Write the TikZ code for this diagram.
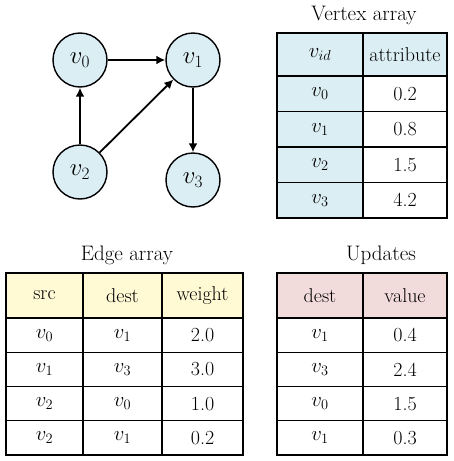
\documentclass[tikz,border=0pt]{standalone}
\usetikzlibrary{arrows,arrows.meta,calc}
\definecolor{vblue}{RGB}{219,238,244}
\definecolor{eyellow}{RGB}{255,249,212}
\definecolor{upink}{RGB}{242,220,219}
\tikzset{
  vert/.style={circle, draw=black, line width=1.4pt, fill=vblue, minimum size=54pt, inner sep=0pt, font=\fontsize{25}{27}\selectfont},
  edge/.style={line width=1.8pt, -{Latex[length=9pt,width=9pt]}},
  cell/.style={inner sep=0pt, font=\fontsize{20}{22}\selectfont},
  ttl/.style={inner sep=0pt, font=\fontsize{21}{24}\selectfont},
  grid/.style={line width=1.1pt, draw=black},
  headline/.style={line width=2.8pt, draw=black}
}

\begin{document}
\begin{tikzpicture}[x=1pt,y=-1pt]
\useasboundingbox (0,0) rectangle (453,461);

%graph vertices
\node [vert] (v0) at (80,60) {$v_0$};
\node [vert] (v1) at (193,60) {$v_1$};
\node [vert] (v2) at (80,172) {$v_2$};
\node [vert] (v3) at (193,180) {$v_3$};

%graph edges
\draw [edge] (v0) -- (v1);
\draw [edge] (v2) -- (v0);
\draw [edge] (v2) -- (v1);
\draw [edge] (v1) -- (v3);

%vertex array
\node [ttl] (vtitle) at (364,15) {Vertex array};
\fill [vblue] (277,33) rectangle (447,76);
\fill [vblue] (277,76) rectangle (363,218);
\foreach \y in {111.5,147,182.5} \draw [grid] (277,\y) -- (447,\y);
\draw [grid] (363,33) -- (363,218);
\draw [grid] (277,33) rectangle (447,218);
\draw [headline] (277,76) -- (447,76);
\node [cell] (vh1) at (320,54.5) {$v_{id}$};
\node [cell] (vh2) at (405,54.5) {attribute};
\foreach \y/\i/\val in {93.75/0/0.2, 129.25/1/0.8, 164.75/2/1.5, 200.25/3/4.2} {
  \node [cell] (vid\i) at (320,\y) {$v_\i$};
  \node [cell] (vattr\i) at (405,\y) {\val};
}

%edge array
\node [ttl] (etitle) at (127,255) {Edge array};
\fill [eyellow] (6,273) rectangle (243,318);
\foreach \y in {352.25,386.5,420.75} \draw [grid] (6,\y) -- (243,\y);
\draw [grid] (83,273) -- (83,455);
\draw [grid] (162,273) -- (162,455);
\draw [grid] (6,273) rectangle (243,455);
\draw [headline] (6,318) -- (243,318);
\node [cell] (eh1) at (44.5,295.5) {src};
\node [cell] (eh2) at (122.5,295.5) {dest};
\node [cell] (eh3) at (202.5,295.5) {weight};
\foreach \y/\k/\s/\d/\w in {335.1/a/0/1/2.0, 369.4/b/1/3/3.0, 403.6/c/2/0/1.0, 437.9/d/2/1/0.2} {
  \node [cell] (esrc\k) at (44.5,\y) {$v_\s$};
  \node [cell] (edst\k) at (122.5,\y) {$v_\d$};
  \node [cell] (ewt\k) at (202.5,\y) {\w};
}

%updates
\node [ttl] (utitle) at (381,255) {Updates};
\fill [upink] (277,273) rectangle (447,318);
\foreach \y in {352.25,386.5,420.75} \draw [grid] (277,\y) -- (447,\y);
\draw [grid] (363,273) -- (363,455);
\draw [grid] (277,273) rectangle (447,455);
\draw [headline] (277,318) -- (447,318);
\node [cell] (uh1) at (320,295.5) {dest};
\node [cell] (uh2) at (405,295.5) {value};
\foreach \y/\k/\d/\v in {335.1/a/1/0.4, 369.4/b/3/2.4, 403.6/c/0/1.5, 437.9/d/1/0.3} {
  \node [cell] (udst\k) at (320,\y) {$v_\d$};
  \node [cell] (uval\k) at (405,\y) {\v};
}

\end{tikzpicture}
\end{document}
